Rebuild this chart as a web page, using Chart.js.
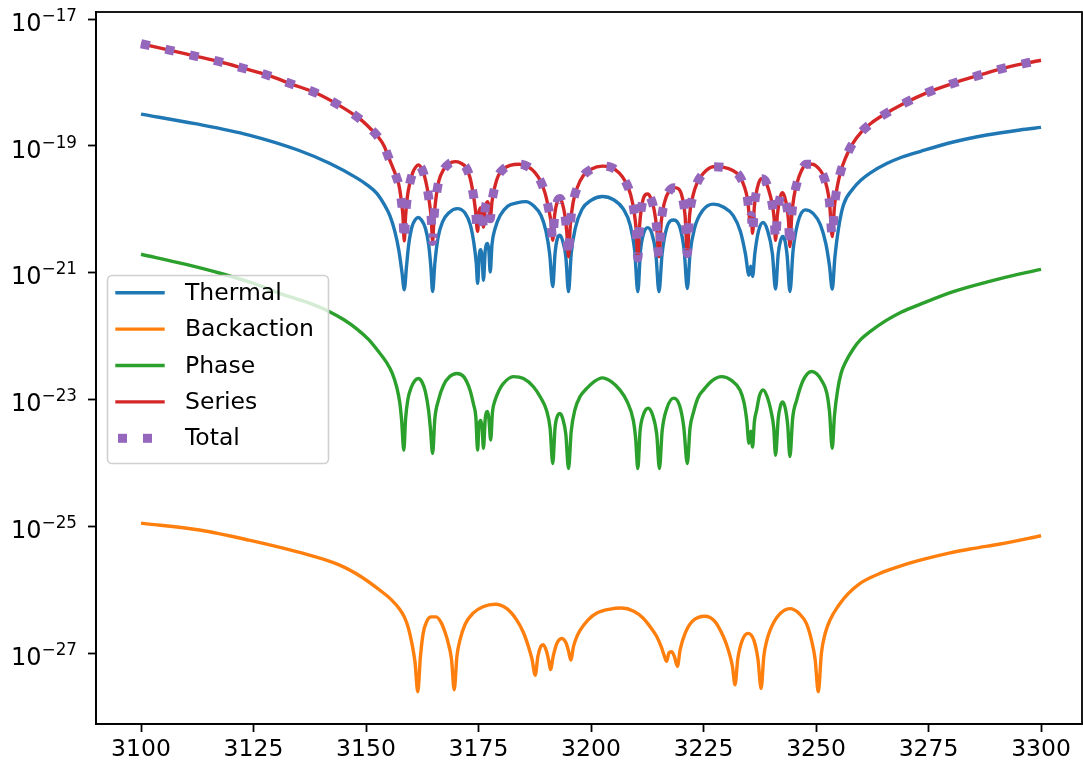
<!DOCTYPE html>
<html>
<head>
<meta charset="utf-8">
<script src="https://cdn.jsdelivr.net/npm/chart.js@4/dist/chart.umd.min.js"></script>
<style>
html, body { margin: 0; padding: 0; background: #fff; }
canvas { display: block; }
</style>
</head>
<body>
<canvas id="myChart" width="1083" height="767"></canvas>
<script>
// values; the y values are read on the log axis,
// so they are kept as their exponents (log10 of the value)
const thermalX = [3100, 3112, 3124, 3135, 3142, 3148, 3150.3, 3152.4, 3154, 3155.3, 3156.4, 3157.3, 3158.0, 3158.5,
    3159.0, 3159.5, 3160.2, 3161.0, 3161.6, 3162.3, 3163.2, 3163.9, 3164.4, 3164.8,
    3165.3, 3166.0, 3167.0, 3168.5, 3170.3, 3172.0, 3173.2, 3174.0, 3174.5, 3174.8,
    3175.2, 3175.5, 3175.8, 3176.1, 3176.5, 3177.0, 3177.3, 3177.6,
    3178.0, 3178.7, 3179.8, 3181.5, 3183.5, 3185.5, 3187.3, 3188.9, 3190.0, 3190.8, 3191.5,
    3192.0, 3192.5, 3193.1, 3193.7, 3194.4, 3195.0,
    3195.6, 3196.5, 3198.0, 3200.0, 3202.5, 3205, 3207.2, 3208.7, 3209.7, 3210.4,
    3211.0, 3211.7, 3212.6, 3213.5, 3214.4, 3215.1,
    3215.8, 3216.8, 3218.4, 3219.8, 3220.7, 3221.4,
    3222.0, 3223.0, 3224.8, 3227.2, 3229.5, 3231.6, 3233.2, 3234.3, 3235.1, 3235.5, 3235.9,
    3236.4, 3237.2, 3238.2, 3239.2, 3240.3, 3241.0,
    3241.6, 3242.1, 3242.6, 3243.1, 3243.6, 3244.2,
    3244.9, 3246.0, 3247.6, 3249.4, 3251.0, 3252.2, 3253.0, 3253.6,
    3254.2, 3255.0, 3256.1, 3258.3, 3260, 3262, 3265.7, 3269, 3273.1, 3280.5, 3287.9, 3295.3, 3300];
const thermalExp = [-18.50, -18.65, -18.83, -19.07, -19.28, -19.51, -19.62, -19.75, -19.92, -20.10, -20.35, -20.65, -21.0, -21.27,
    -20.9, -20.55, -20.28, -20.16, -20.13, -20.17, -20.30, -20.55, -20.9, -21.30,
    -20.85, -20.45, -20.20, -20.05, -19.99, -20.06, -20.25, -20.55, -20.85, -21.17,
    -20.70, -20.64, -20.75, -21.12, -20.65, -20.54, -20.65, -20.99,
    -20.55, -20.30, -20.10, -19.95, -19.90, -19.88, -19.95, -20.10, -20.35, -20.70, -21.22,
    -20.70, -20.47, -20.41, -20.50, -20.75, -21.30,
    -20.70, -20.30, -20.00, -19.86, -19.80, -19.85, -20.00, -20.25, -20.65, -21.30,
    -20.65, -20.38, -20.29, -20.38, -20.70, -21.30,
    -20.70, -20.30, -20.17, -20.30, -20.65, -21.25,
    -20.70, -20.30, -20.02, -19.92, -19.97, -20.10, -20.35, -20.70, -21.04, -20.90, -21.06,
    -20.70, -20.35, -20.21, -20.33, -20.70, -21.26,
    -20.70, -20.50, -20.43, -20.50, -20.75, -21.30,
    -20.65, -20.20, -20.01, -20.07, -20.25, -20.55, -20.90, -21.26,
    -20.75, -20.30, -19.93, -19.67, -19.54, -19.43, -19.28, -19.18, -19.09, -18.94, -18.83, -18.75, -18.71];

const backactionX = [3100, 3113, 3124, 3135, 3144, 3149, 3153.1, 3155.5, 3157.6, 3158.5, 3159.4, 3160.2, 3160.9, 3161.5,
    3162.1, 3162.7, 3163.5, 3164.5, 3165.6, 3166.7, 3167.6, 3168.3, 3169.0, 3169.6,
    3170.2, 3170.9, 3172.0, 3173.8, 3176, 3178.7, 3181.3, 3183.5, 3185.0, 3186.1, 3186.9, 3187.6,
    3188.2, 3188.8, 3189.4, 3190.1, 3190.6, 3191.0, 3191.6, 3192.4, 3193.5, 3194.5, 3195.0, 3195.5,
    3196.1, 3196.8, 3197.6, 3199.3, 3201.3, 3204, 3206.8, 3209.5, 3211.6, 3213.3, 3214.6, 3215.7, 3216.3, 3216.8,
    3217.3, 3217.9, 3218.5, 3219.2, 3219.8, 3220.9, 3222.5, 3225.3, 3227.5, 3229.4, 3230.5, 3231.4, 3232.0,
    3232.6, 3233.5, 3234.9, 3236.2, 3237.1, 3237.8, 3238.4, 3239.0, 3239.8, 3241.5, 3244.2, 3246.3, 3247.9,
    3249.0, 3249.8, 3250.5, 3251.2, 3252.0, 3253.1, 3255.0, 3257.2, 3259.8, 3264, 3268.7, 3274, 3279.8, 3285, 3290.9, 3300];
const backactionExp = [-24.95, -25.06, -25.22, -25.41, -25.61, -25.80, -26.01, -26.15, -26.32, -26.43, -26.60, -26.85, -27.15, -27.61,
    -27.05, -26.69, -26.50, -26.43, -26.43, -26.52, -26.68, -26.85, -27.10, -27.58,
    -27.05, -26.79, -26.55, -26.37, -26.27, -26.23, -26.30, -26.48, -26.68, -26.90, -27.10, -27.35,
    -27.05, -26.90, -26.87, -26.97, -27.12, -27.26, -27.05, -26.85, -26.77, -26.85, -26.97, -27.11,
    -26.90, -26.75, -26.64, -26.48, -26.37, -26.31, -26.29, -26.34, -26.45, -26.60, -26.74, -26.92, -27.05, -27.13,
    -27.00, -26.98, -27.05, -27.21, -26.95, -26.69, -26.50, -26.42, -26.50, -26.74, -26.95, -27.20, -27.50,
    -27.10, -26.82, -26.69, -26.80, -27.10, -27.56, -27.05, -26.82, -26.64, -26.42, -26.30, -26.38, -26.54,
    -26.80, -27.10, -27.61, -27.00, -26.70, -26.48, -26.25, -26.06, -25.90, -25.75, -25.63, -25.52, -25.42, -25.35, -25.28, -25.15];

const phaseX = [3100, 3110, 3117.6, 3125, 3130.9, 3137, 3142, 3145, 3148, 3150.5, 3152.5, 3154.6, 3155.8, 3156.8, 3157.5, 3157.9, 3158.4,
    3158.8, 3159.3, 3160.0, 3160.8, 3161.6, 3162.4, 3163.2, 3163.9, 3164.3, 3164.8,
    3165.3, 3166.1, 3167.2, 3168.6, 3170.2, 3171.7, 3173.1, 3173.9, 3174.4, 3174.8,
    3175.1, 3175.5, 3175.8, 3176.1, 3176.5, 3177.0, 3177.3, 3177.7,
    3178.1, 3178.7, 3179.6, 3180.5, 3182.7, 3185, 3187.2, 3188.8, 3190.1, 3190.9, 3191.5,
    3192.0, 3192.6, 3193.1, 3193.7, 3194.4, 3195.0,
    3195.6, 3196.4, 3197.6, 3199.0, 3200.7, 3202.5, 3204.5, 3206.4, 3208.0, 3209.4, 3209.9, 3210.4,
    3210.9, 3211.6, 3212.7, 3213.7, 3214.6, 3215.2,
    3215.8, 3216.8, 3218.4, 3219.7, 3220.6, 3221.4,
    3222.0, 3222.7, 3223.8, 3225.0, 3227, 3229.0, 3231.2, 3233.1, 3234.0, 3234.6, 3235.1, 3235.5, 3235.9,
    3236.3, 3236.8, 3237.4, 3238.2, 3239.1, 3240.1, 3240.6, 3241.0,
    3241.6, 3242.1, 3242.6, 3243.2, 3243.7, 3244.2,
    3244.8, 3245.7, 3247.0, 3248.0, 3249.0, 3250.2, 3251.4, 3252.4, 3253.0, 3253.6,
    3254.1, 3254.8, 3255.6, 3256.5, 3258.3, 3260, 3262, 3265.7, 3269, 3273.1, 3280.5, 3287.9, 3295.3, 3300];
const phaseExp = [-20.71, -20.87, -21.01, -21.17, -21.33, -21.47, -21.62, -21.74, -21.89, -22.05, -22.22, -22.42, -22.58, -22.80, -23.05, -23.32, -23.80,
    -23.30, -23.00, -22.82, -22.71, -22.67, -22.72, -22.88, -23.17, -23.45, -23.85,
    -23.30, -23.01, -22.78, -22.64, -22.59, -22.64, -22.85, -23.08, -23.27, -23.80,
    -23.40, -23.33, -23.45, -23.77, -23.30, -23.19, -23.30, -23.64,
    -23.20, -23.01, -22.85, -22.75, -22.64, -22.67, -22.80, -22.97, -23.17, -23.45, -24.01,
    -23.45, -23.25, -23.22, -23.30, -23.55, -24.09,
    -23.50, -23.17, -22.95, -22.83, -22.72, -22.66, -22.72, -22.85, -23.03, -23.33, -23.60, -24.09,
    -23.50, -23.25, -23.14, -23.25, -23.55, -24.09,
    -23.50, -23.15, -22.98, -23.10, -23.43, -24.01,
    -23.45, -23.22, -22.97, -22.85, -22.70, -22.64, -22.70, -22.85, -23.05, -23.33, -23.69, -23.50, -23.75,
    -23.35, -23.17, -22.95, -22.85, -22.95, -23.22, -23.45, -23.88,
    -23.30, -23.10, -23.04, -23.15, -23.40, -23.90,
    -23.30, -23.01, -22.72, -22.60, -22.56, -22.60, -22.72, -22.90, -23.20, -23.77,
    -23.25, -22.85, -22.58, -22.42, -22.20, -22.05, -21.93, -21.75, -21.62, -21.50, -21.30, -21.15, -21.02, -20.95];

const seriesX = [3100, 3106.3, 3111.8, 3117.3, 3122.9, 3128.3, 3133.6, 3139.0, 3144.0, 3148.7, 3151, 3152.7, 3154.0, 3155.0,
    3156.0, 3156.8, 3157.4, 3157.9, 3158.2, 3158.5,
    3158.8, 3159.2, 3159.7, 3160.4, 3161.0, 3161.6, 3162.3, 3163.0, 3163.6, 3164.1, 3164.5, 3164.8,
    3165.1, 3165.5, 3166.2, 3167.2, 3168.5, 3169.8, 3171.0, 3172.2, 3173.1, 3173.8, 3174.3, 3174.8,
    3175.1, 3175.5, 3175.8, 3176.1, 3176.5, 3177.0, 3177.3, 3177.6,
    3178.0, 3178.6, 3179.4, 3180.5, 3182.0, 3184.0, 3186.0, 3187.5, 3188.8, 3189.8, 3190.6, 3191.1, 3191.5,
    3191.9, 3192.5, 3193.1, 3193.6, 3194.2, 3194.6, 3195.0,
    3195.4, 3196.0, 3197.0, 3198.3, 3200.0, 3202.5, 3204.5, 3206.3, 3207.7, 3208.8, 3209.6, 3210.0, 3210.4,
    3210.8, 3211.4, 3212.1, 3212.6, 3213.3, 3214.0, 3214.6, 3215.1,
    3215.6, 3216.3, 3217.3, 3218.5, 3219.5, 3220.3, 3220.9, 3221.4,
    3221.9, 3222.6, 3223.6, 3225.0, 3227.2, 3229.5, 3231.5, 3233.0, 3234.1, 3234.8, 3235.3, 3235.6, 3235.9,
    3236.3, 3236.9, 3237.8, 3238.7, 3239.5, 3240.2, 3240.7, 3241.0,
    3241.4, 3241.9, 3242.5, 3243.0, 3243.6, 3243.9, 3244.2,
    3244.6, 3245.1, 3245.8, 3246.7, 3247.8, 3249.2, 3250.5, 3251.5, 3252.4, 3253.0, 3253.6,
    3254.1, 3254.7, 3255.5, 3256.5, 3258.0, 3260.1, 3262.3, 3264.6, 3269.6, 3274.7, 3280.2, 3285.6, 3290.9, 3296.4, 3300];
const seriesExp = [-17.39, -17.49, -17.58, -17.67, -17.78, -17.89, -18.03, -18.17, -18.36, -18.58, -18.73, -18.86, -19.00, -19.18,
    -19.35, -19.50, -19.65, -19.90, -20.10, -20.50,
    -20.10, -19.80, -19.60, -19.42, -19.34, -19.30, -19.35, -19.48, -19.67, -19.90, -20.15, -20.51,
    -20.15, -19.85, -19.55, -19.38, -19.28, -19.25, -19.27, -19.34, -19.50, -19.75, -20.00, -20.35,
    -20.05, -19.98, -20.05, -20.28, -19.98, -19.88, -19.95, -20.15,
    -19.88, -19.65, -19.47, -19.37, -19.31, -19.29, -19.33, -19.42, -19.56, -19.75, -20.00, -20.20, -20.49,
    -20.10, -19.88, -19.83, -19.90, -20.10, -20.35, -20.75,
    -20.25, -19.90, -19.65, -19.47, -19.37, -19.32, -19.34, -19.43, -19.57, -19.77, -20.05, -20.30, -20.77,
    -20.25, -19.90, -19.77, -19.76, -19.83, -20.00, -20.30, -20.75,
    -20.20, -19.90, -19.72, -19.66, -19.68, -19.82, -20.10, -20.70,
    -20.10, -19.80, -19.58, -19.43, -19.33, -19.34, -19.39, -19.48, -19.65, -19.85, -20.15, -20.10, -20.38,
    -19.95, -19.68, -19.52, -19.55, -19.70, -19.90, -20.15, -20.49,
    -20.10, -19.85, -19.74, -19.80, -20.00, -20.20, -20.59,
    -20.10, -19.80, -19.58, -19.40, -19.29, -19.29, -19.35, -19.45, -19.65, -19.90, -20.43,
    -19.95, -19.65, -19.40, -19.20, -18.98, -18.78, -18.64, -18.53, -18.33, -18.16, -18.02, -17.90, -17.79, -17.70, -17.65];

// the total sits on top of the series curve everywhere in the picture
const totalX = seriesX;
const totalExp = seriesExp;

const xTicks = [3100, 3125, 3150, 3175, 3200, 3225, 3250, 3275, 3300];
const yTickExps = [-17, -19, -21, -23, -25, -27];

const FONT = 'DejaVu Sans';

function pts(xs, exps) {
    const n = Math.min(xs.length, exps.length);
    const out = [];
    for (let i = 0; i < n; i++) out.push({ x: xs[i], y: Math.pow(10, exps[i]) });
    return out;
}

function lineSet(label, xs, exps, color, order) {
    return {
        label: label,
        data: pts(xs, exps),
        borderColor: color,
        backgroundColor: color,
        borderWidth: 3.4,
        borderJoinStyle: 'round',
        pointRadius: 0,
        fill: false,
        cubicInterpolationMode: 'monotone',
        order: order
    };
}

const legendItems = [
    { label: 'Thermal', color: '#1f77b4' },
    { label: 'Backaction', color: '#ff7f0e' },
    { label: 'Phase', color: '#2ca02c' },
    { label: 'Series', color: '#d62728' },
    { label: 'Total', color: '#9467bd', dotted: true }
];

// matplotlib-like frame, legend and 10^n tick labels
const decor = {
    id: 'decor',
    afterDatasetsDraw(chart) {
        const ctx = chart.ctx;
        ctx.save();
        const bx = 107.5, by = 275.5, bw = 221, bh = 188, r = 4.5;
        ctx.beginPath();
        ctx.moveTo(bx + r, by);
        ctx.arcTo(bx + bw, by, bx + bw, by + bh, r);
        ctx.arcTo(bx + bw, by + bh, bx, by + bh, r);
        ctx.arcTo(bx, by + bh, bx, by, r);
        ctx.arcTo(bx, by, bx + bw, by, r);
        ctx.closePath();
        ctx.fillStyle = 'rgba(255,255,255,0.8)';
        ctx.fill();
        ctx.strokeStyle = '#d0d0d0';
        ctx.lineWidth = 1.6;
        ctx.stroke();

        ctx.font = '23.5px "' + FONT + '"';
        ctx.textBaseline = 'middle';
        ctx.textAlign = 'left';
        legendItems.forEach((it, i) => {
            const cy = 292.7 + i * 36.4;
            if (it.dotted) {
                ctx.fillStyle = it.color;
                ctx.fillRect(118, cy - 4.5, 9, 9);
                ctx.fillRect(143, cy - 4.5, 9, 9);
            } else {
                ctx.strokeStyle = it.color;
                ctx.lineWidth = 3.4;
                ctx.lineCap = 'square';
                ctx.beginPath();
                ctx.moveTo(117, cy);
                ctx.lineTo(163, cy);
                ctx.stroke();
            }
            ctx.fillStyle = '#000';
            ctx.fillText(it.label, 185, cy + 1);
        });
        ctx.restore();
    },
    afterDraw(chart) {
        const ctx = chart.ctx;
        const a = chart.chartArea;
        ctx.save();
        ctx.strokeStyle = '#000';
        ctx.lineWidth = 1.8;
        ctx.strokeRect(a.left, a.top, a.right - a.left, a.bottom - a.top);

        const ys = chart.scales.y;
        ctx.fillStyle = '#000';
        ctx.textAlign = 'left';
        ctx.textBaseline = 'alphabetic';
        yTickExps.forEach((e) => {
            const py = ys.getPixelForValue(Math.pow(10, e));
            const sup = '\u2212' + String(-e);
            ctx.font = '16.8px "' + FONT + '"';
            const wSup = ctx.measureText(sup).width;
            ctx.font = '24px "' + FONT + '"';
            const wBase = ctx.measureText('10').width;
            const right = 77;
            ctx.fillText('10', right - wSup - wBase, py + 11.7);
            ctx.font = '16.8px "' + FONT + '"';
            ctx.fillText(sup, right - wSup, py + 1.7);
        });
        ctx.restore();
    }
};

const ctx = document.getElementById('myChart').getContext('2d');

const myChart = new Chart(ctx, {
    type: 'line',
    data: {
        datasets: [
            lineSet('Thermal', thermalX, thermalExp, '#1f77b4', 5),
            lineSet('Backaction', backactionX, backactionExp, '#ff7f0e', 4),
            lineSet('Phase', phaseX, phaseExp, '#2ca02c', 3),
            lineSet('Series', seriesX, seriesExp, '#d62728', 2),
            {
                label: 'Total',
                data: pts(totalX, totalExp),
                borderColor: '#9467bd',
                borderWidth: 9,
                borderDash: [9, 16],
                borderCapStyle: 'butt',
                pointRadius: 0,
                fill: false,
                cubicInterpolationMode: 'monotone',
                order: 1
            }
        ]
    },
    options: {
        responsive: false,
        devicePixelRatio: 1,
        animation: false,
        layout: { padding: { left: 0, right: 1, top: 12, bottom: 0 } },
        plugins: {
            legend: { display: false },
            tooltip: { enabled: false }
        },
        scales: {
            x: {
                type: 'linear',
                min: 3090,
                max: 3309.1,
                afterBuildTicks: (scale) => { scale.ticks = xTicks.map(v => ({ value: v })); },
                afterFit: (scale) => { scale.height = 43; },
                ticks: {
                    color: '#000',
                    font: { family: FONT, size: 23.5 },
                    padding: 4,
                    maxRotation: 0,
                    autoSkip: false,
                    callback: (v) => String(v)
                },
                grid: {
                    drawOnChartArea: false,
                    drawTicks: true,
                    tickLength: 8,
                    tickWidth: 1.8,
                    tickColor: '#000'
                },
                border: { display: true, color: '#000', width: 1.8 }
            },
            y: {
                type: 'logarithmic',
                min: 7.6e-29,
                max: 1.29e-17,
                afterBuildTicks: (scale) => { scale.ticks = yTickExps.map(e => ({ value: Math.pow(10, e) })); },
                afterFit: (scale) => { scale.width = 96; },
                ticks: {
                    callback: () => ''
                },
                grid: {
                    drawOnChartArea: false,
                    drawTicks: true,
                    tickLength: 8,
                    tickWidth: 1.8,
                    tickColor: '#000'
                },
                border: { display: true, color: '#000', width: 1.8 }
            }
        }
    },
    plugins: [decor]
});
</script>
</body>
</html>
